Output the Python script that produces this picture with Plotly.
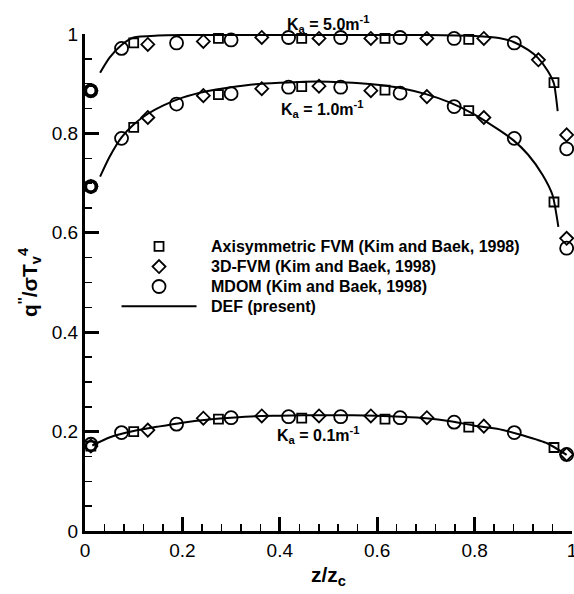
import plotly.graph_objects as go

# ---------------- data ----------------
# x positions of the reference (Kim and Baek, 1998) results
z_square = [0.012, 0.1, 0.274, 0.445, 0.616, 0.788, 0.963]
z_diamond_k5 = [0.012, 0.129, 0.243, 0.363, 0.4805, 0.587, 0.702, 0.819, 0.931, 0.989]
z_diamond = [0.012, 0.129, 0.243, 0.363, 0.4805, 0.587, 0.702, 0.819, 0.989]
z_circle = [0.012, 0.075, 0.188, 0.3, 0.418, 0.525, 0.647, 0.758, 0.8815, 0.989]

# Ka = 5.0
square_k5 = [0.886, 0.982, 0.991, 0.991, 0.991, 0.989, 0.902]
diamond_k5 = [0.886, 0.979, 0.985, 0.993, 0.991, 0.991, 0.991, 0.991, 0.948, 0.797]
circle_k5 = [0.886, 0.971, 0.982, 0.988, 0.993, 0.993, 0.993, 0.991, 0.982, 0.769]
# Ka = 1.0
square_k1 = [0.693, 0.812, 0.878, 0.894, 0.887, 0.846, 0.662]
diamond_k1 = [0.693, 0.832, 0.876, 0.890, 0.895, 0.886, 0.874, 0.832, 0.589]
circle_k1 = [0.693, 0.790, 0.859, 0.880, 0.893, 0.893, 0.881, 0.854, 0.790, 0.569]
# Ka = 0.1
square_k01 = [0.171, 0.200, 0.225, 0.227, 0.225, 0.209, 0.168]
diamond_k01 = [0.171, 0.203, 0.227, 0.2315, 0.2315, 0.2315, 0.228, 0.211, 0.154]
circle_k01 = [0.1745, 0.198, 0.215, 0.228, 0.230, 0.230, 0.228, 0.219, 0.198, 0.154]

# DEF (present) curves
def_k5_z = [0.031, 0.05, 0.075, 0.1, 0.15, 0.2, 0.3, 0.4, 0.5, 0.6, 0.7, 0.8, 0.85,
            0.88, 0.91, 0.93, 0.95, 0.963, 0.967, 0.9706]
def_k5_q = [0.922, 0.952, 0.978, 0.993, 0.997, 0.998, 0.998, 0.998, 0.998, 0.998, 0.998,
            0.996, 0.992, 0.984, 0.968, 0.952, 0.926, 0.900, 0.875, 0.845]
def_k1_z = [0.031, 0.05, 0.075, 0.1, 0.13, 0.16, 0.2, 0.25, 0.3, 0.35, 0.4, 0.45, 0.5,
            0.55, 0.6, 0.65, 0.7, 0.75, 0.8, 0.85, 0.88, 0.91, 0.94, 0.96, 0.972]
def_k1_q = [0.713, 0.752, 0.792, 0.818, 0.840, 0.856, 0.872, 0.885, 0.893, 0.899, 0.902,
            0.904, 0.904, 0.902, 0.898, 0.891, 0.879, 0.862, 0.838, 0.807, 0.786, 0.757,
            0.716, 0.676, 0.612]
def_k01_z = [0.015, 0.05, 0.1, 0.15, 0.2, 0.25, 0.3, 0.35, 0.4, 0.45, 0.5, 0.55, 0.6,
             0.65, 0.7, 0.75, 0.8, 0.85, 0.9, 0.95, 0.989]
def_k01_q = [0.172, 0.188, 0.201, 0.210, 0.218, 0.224, 0.228, 0.231, 0.232, 0.233, 0.233,
             0.233, 0.232, 0.230, 0.227, 0.221, 0.212, 0.205, 0.192, 0.176, 0.153]

legend_names = ["Axisymmetric FVM (Kim and Baek, 1998)",
                "3D-FVM (Kim and Baek, 1998)",
                "MDOM (Kim and Baek, 1998)",
                "DEF (present)"]
ka_labels = ["K<sub>a</sub> = 5.0m<sup>-1</sup>",
             "K<sub>a</sub> = 1.0m<sup>-1</sup>",
             "K<sub>a</sub> = 0.1m<sup>-1</sup>"]
ka_label_z = [0.499, 0.487, 0.479]
ka_label_q = [1.047, 0.875, 0.167]

# ---------------- figure ----------------
FONT = "Liberation Sans, Arial, Helvetica, sans-serif"
SQ_SIZE, DI_SIZE, CI_SIZE, MK_LW = 9, 10, 13, 1.8
fig = go.Figure()

def markers(x, y, symbol, size, name):
    fig.add_trace(go.Scatter(
        x=x, y=y, mode="markers", name=name, cliponaxis=False, showlegend=False,
        marker=dict(symbol=symbol, size=size, color="black", line=dict(width=MK_LW)),
    ))

markers(z_square * 3, square_k5 + square_k1 + square_k01, "square-open", SQ_SIZE, legend_names[0])
markers(z_diamond_k5 + z_diamond * 2, diamond_k5 + diamond_k1 + diamond_k01,
        "diamond-open", DI_SIZE, legend_names[1])
markers(z_circle * 3, circle_k5 + circle_k1 + circle_k01, "circle-open", CI_SIZE, legend_names[2])

for zz, qq in [(def_k5_z, def_k5_q), (def_k1_z, def_k1_q), (def_k01_z, def_k01_q)]:
    fig.add_trace(go.Scatter(
        x=zz, y=qq, mode="lines", name=legend_names[3], showlegend=False,
        line=dict(color="black", width=2, shape="spline", smoothing=0.6),
        cliponaxis=False,
    ))

for txt, xx, yy in zip(ka_labels, ka_label_z, ka_label_q):
    fig.add_annotation(x=xx, y=yy, xref="paper", yref="paper", text="<b>" + txt + "</b>",
                       showarrow=False, font=dict(family=FONT, size=16, color="black"))

# ---------- hand-placed legend (paper coordinates) ----------
leg_sym_x = 0.152
leg_line_x = [0.075, 0.229]
leg_text_x = 0.2536
leg_rows = [0.5725, 0.532, 0.492, 0.452]
black_line = dict(color="black", width=MK_LW)
hs = SQ_SIZE / 2
fig.add_shape(type="rect", xref="paper", yref="paper", xsizemode="pixel", ysizemode="pixel",
              xanchor=leg_sym_x, yanchor=leg_rows[0], x0=-hs, x1=hs, y0=-hs, y1=hs,
              line=black_line, fillcolor="rgba(0,0,0,0)")
hd = DI_SIZE / 2 * 1.3
fig.add_shape(type="path", xref="paper", yref="paper", xsizemode="pixel", ysizemode="pixel",
              xanchor=leg_sym_x, yanchor=leg_rows[1],
              path=f"M0,{-hd} L{hd},0 L0,{hd} L{-hd},0 Z", line=black_line,
              fillcolor="rgba(0,0,0,0)")
hc = CI_SIZE / 2
fig.add_shape(type="circle", xref="paper", yref="paper", xsizemode="pixel", ysizemode="pixel",
              xanchor=leg_sym_x, yanchor=leg_rows[2], x0=-hc, x1=hc, y0=-hc, y1=hc,
              line=black_line, fillcolor="rgba(0,0,0,0)")
fig.add_shape(type="line", xref="paper", yref="paper", x0=leg_line_x[0], x1=leg_line_x[1],
              y0=leg_rows[3], y1=leg_rows[3], line=dict(color="black", width=2))
for name, yy in zip(legend_names, leg_rows):
    fig.add_annotation(x=leg_text_x, y=yy, xref="paper", yref="paper", xanchor="left",
                       yanchor="middle", text="<b>" + name + "</b>", showarrow=False,
                       font=dict(family=FONT, size=16, color="black"))

axis_common = dict(
    range=[0, 1], showgrid=False, zeroline=False, showline=True, linewidth=3,
    linecolor="black", ticks="inside", ticklen=14, tickwidth=3, tickcolor="black",
    tickfont=dict(family=FONT, size=19, color="black"), dtick=0.2,
    tickformat="~g", ticklabeloverflow="allow",
)
fig.update_xaxes(**axis_common,
                 minor=dict(dtick=0.04, ticks="inside", ticklen=7, tickwidth=1.5, tickcolor="black"),
                 title=dict(text="<b>z/z<sub>c</sub></b>", font=dict(family=FONT, size=21, color="black"),
                            standoff=8))
fig.update_yaxes(**axis_common,
                 minor=dict(dtick=0.05, ticks="inside", ticklen=7, tickwidth=1.5, tickcolor="black"),
                 title=dict(text="<b>q<sup>''</sup>/σT<sub>v</sub><sup>4</sup></b>",
                            font=dict(family=FONT, size=21, color="black"), standoff=9))

fig.update_layout(
    width=574, height=594,
    margin=dict(l=85, r=2, t=34, b=63, autoexpand=False),
    paper_bgcolor="white", plot_bgcolor="white",
    font=dict(family=FONT, color="black"),
    showlegend=False,
)

fig.write_html(
    "out.html",
    config={"displayModeBar": False, "staticPlot": True},
    post_script="document.body.style.margin='0';document.body.style.overflow='hidden';",
)
